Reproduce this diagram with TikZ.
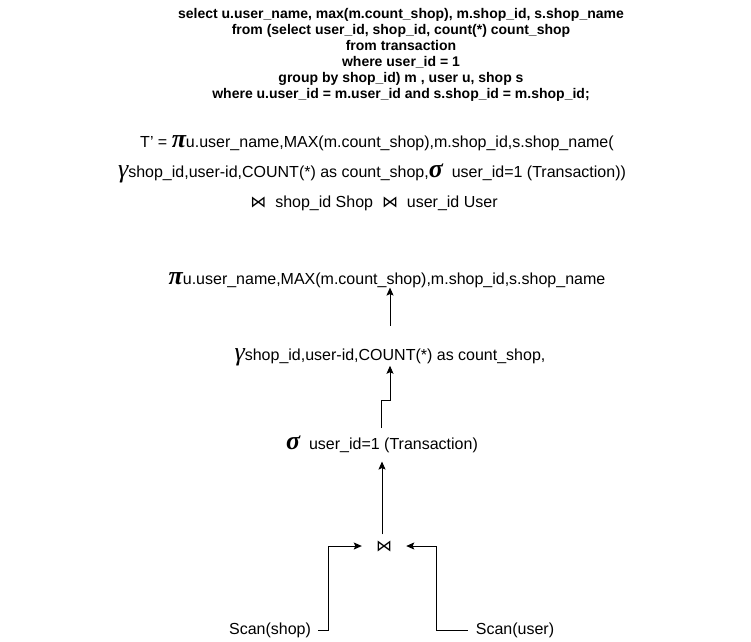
\documentclass[tikz,border=0pt]{standalone}
\usepackage{fontspec}
\usetikzlibrary{arrows.meta}
\setmainfont{Liberation Sans}
\newfontfamily\gkfont{Liberation Serif}
\newfontfamily\symfont{DejaVu Sans}
\newcommand{\gkb}[1]{{\gkfont\bfseries\itshape\fontsize{26}{26}\selectfont #1}}
\newcommand{\gk}[1]{{\gkfont\itshape\fontsize{26}{26}\selectfont #1}}
\newcommand{\jn}{{\symfont\fontsize{16}{16}\selectfont ⋈}}
\begin{document}
\begin{tikzpicture}[x=1pt,y=-1pt,
  lbl/.style={inner sep=0pt,font=\fontsize{16}{18}\selectfont},
  arr/.style={draw=black,line width=1pt,-{Stealth[length=8pt,width=7pt,inset=1.5pt]}}]
\useasboundingbox (0,0) rectangle (751,641);
\node[inner sep=0pt,anchor=north,align=center,font=\bfseries\fontsize{14}{16}\selectfont] (sql) at (401,8)
 {select u.user\_name, max(m.count\_shop), m.shop\_id, s.shop\_name\\
  from (select user\_id, shop\_id, count(*) count\_shop\\
  from transaction\\
  where user\_id = 1\\
  group by shop\_id) m , user u, shop s\\
  where u.user\_id = m.user\_id and s.shop\_id = m.shop\_id;};
\node[lbl,anchor=base] (f1) at (377,147) {T' = \gkb{π}u.user\_name,MAX(m.count\_shop),m.shop\_id,s.shop\_name(};
\node[lbl,anchor=base] (f2) at (372,177) {\gk{γ}shop\_id,user-id,COUNT(*) as count\_shop,\gkb{σ}\ \ user\_id=1 (Transaction))};
\node[lbl,anchor=base] (f3) at (374,207) {\jn\ \ shop\_id Shop \ \jn\ \ user\_id User};
\node[lbl,anchor=base] (pi) at (387,284) {\gkb{π}u.user\_name,MAX(m.count\_shop),m.shop\_id,s.shop\_name};
\node[lbl,anchor=base] (gam) at (390,360) {\gk{γ}shop\_id,user-id,COUNT(*) as count\_shop,};
\node[lbl,anchor=base] (sig) at (382,449) {\gkb{σ}\ \ user\_id=1 (Transaction)};
\node[lbl] (join) at (384,546) {\jn};
\node[lbl] (shop) at (270,630) {Scan(shop)};
\node[lbl] (user) at (515,630) {Scan(user)};
\draw[arr] (gam.north) ++(0,-22) -- (gam.north |- pi.south);
\draw[arr] (sig.north) ++(-1,-7) -- ++(0,-28) -| (gam.south);
\draw[arr] (join.north) ++(-2,-6) -- ([yshift=-9pt]sig.south);
\draw[arr] (shop.east) ++(7,0) -- ++(10,0) |- ([xshift=-14pt]join.west);
\draw[arr] (user.west) ++(-8,0) -- ++(-31,0) |- ([xshift=14pt]join.east);
\end{tikzpicture}
\end{document}
